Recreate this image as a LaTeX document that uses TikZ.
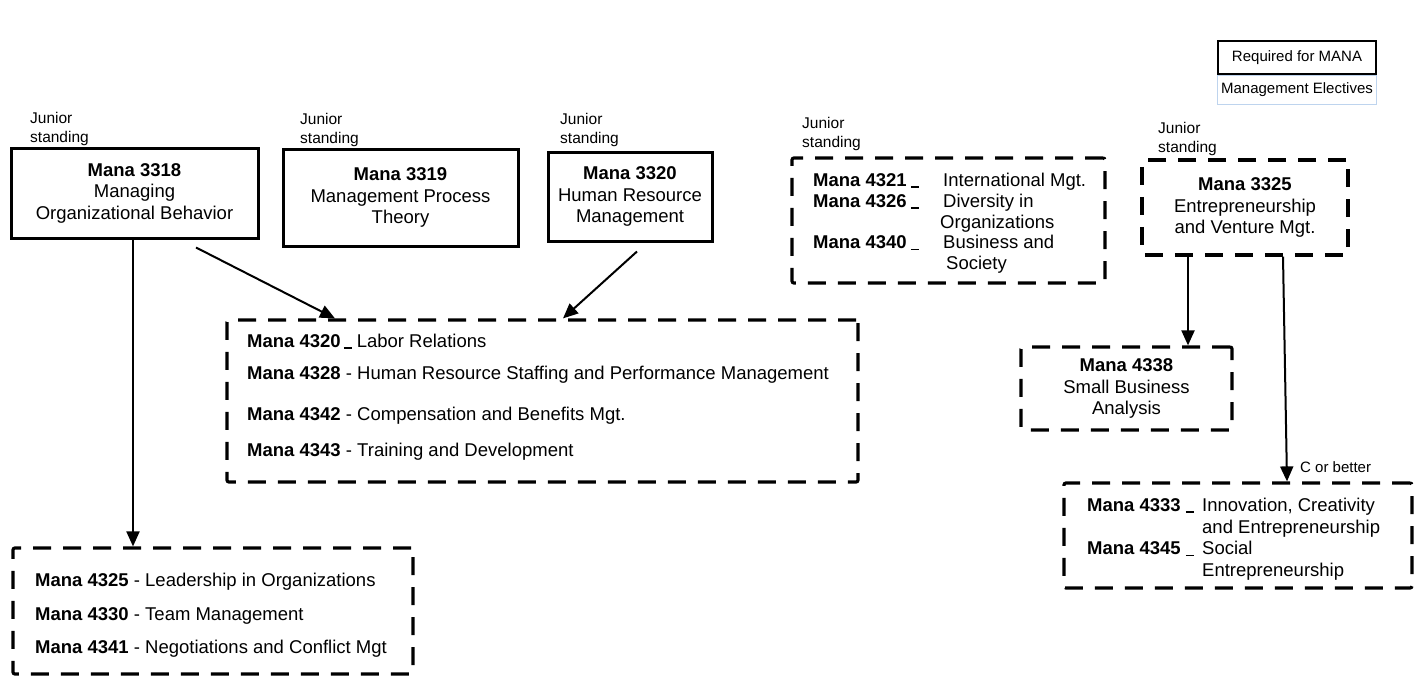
\documentclass[tikz,border=0pt]{standalone}
\usepackage{fontspec}
\setmainfont{Liberation Sans}
\usetikzlibrary{arrows.meta}
\definecolor{legblue}{RGB}{190,212,238}
\newcommand{\ud}{\rule[-1pt]{8pt}{1.4pt}}
\begin{document}
\begin{tikzpicture}[x=1pt,y=-1pt,
  solidbox/.style={draw, line width=3pt, inner sep=0pt, align=center, font=\fontsize{18.5}{21.5}\selectfont},
  dashbox/.style={draw, line width=3.2pt, dash pattern=on 18pt off 12pt, rounded corners=2pt, inner sep=0pt, align=center, font=\fontsize{18.5}{21.5}\selectfont},
  junior/.style={anchor=base west, align=left, inner sep=0pt, font=\fontsize{15.5}{19}\selectfont},
  listtext/.style={anchor=base west, align=left, inner sep=0pt},
  arr/.style={line width=2pt, -{Triangle[length=15pt,width=13pt]}},
  legendtext/.style={font=\fontsize{15}{18}\selectfont}
]
\useasboundingbox (0,0) rectangle (1416,677);

% legend
\node[draw, line width=2.5pt, minimum width=158pt, minimum height=33pt, legendtext] (legreq) at (1297,57.5) {Required for MANA};
\node[draw=legblue, line width=1.2pt, minimum width=158pt, minimum height=29pt, legendtext] (legel) at (1297,90) {Management Electives};

% junior standing labels (anchor = baseline of last line)
\node[junior] (j3318) at (30,142.5) {Junior\\standing};
\node[junior] (j3319) at (300,143.5) {Junior\\standing};
\node[junior] (j3320) at (560,143.5) {Junior\\standing};
\node[junior] (j4321) at (802,147.5) {Junior\\standing};
\node[junior] (j3325) at (1158,152.5) {Junior\\standing};

% boxes
\node[solidbox, minimum width=247pt, minimum height=90pt] (b3318) at (134.5,193) {\textbf{Mana 3318}\\Managing\\Organizational Behavior};
\node[solidbox, minimum width=235pt, minimum height=97pt] (b3319) at (400.5,197.5) {\textbf{Mana 3319}\\Management Process\\Theory};
\node[solidbox, minimum width=164pt, minimum height=89pt] (b3320) at (630,196.5) {\textbf{Mana 3320}\\Human Resource\\Management};
\node[dashbox, minimum width=313pt, minimum height=125pt] (b4321) at (948.5,220.5) {};
\node[dashbox, minimum width=206pt, minimum height=95pt] (b3325) at (1245,207.5) {\textbf{Mana 3325}\\Entrepreneurship\\and Venture Mgt.};
\node[dashbox, minimum width=211pt, minimum height=83pt] (b4338) at (1126.5,388.5) {\textbf{Mana 4338}\\Small Business\\Analysis};
\node[dashbox, minimum width=631pt, minimum height=162pt] (b4320) at (542.5,401) {};
\node[dashbox, minimum width=400pt, minimum height=126pt] (b4325) at (213,611) {};
\node[dashbox, minimum width=348pt, minimum height=105pt] (b4333) at (1238,535.5) {};

% list texts (anchor = baseline of last line)
\node[listtext, font=\fontsize{18.5}{20.7}\selectfont] (t4321) at (813,269.6) {\makebox[130pt][l]{\textbf{Mana 4321}\hspace{4pt}\ud}International Mgt.\\
\makebox[130pt][l]{\textbf{Mana 4326}\hspace{4pt}\ud}Diversity in\\
\hspace*{127pt}Organizations\\
\makebox[130pt][l]{\textbf{Mana 4340}\hspace{4pt}\ud}Business and\\
\hspace*{133pt}Society};

\node[listtext, font=\fontsize{18.5}{21.3}\selectfont] (t4320) at (247,456.6) {\textbf{Mana 4320}\hspace{3pt}\ud\hspace{5pt}Labor Relations\\[10.7pt]
\textbf{Mana 4328} - Human Resource Staffing and Performance Management\\[19.7pt]
\textbf{Mana 4342} - Compensation and Benefits Mgt.\\[14.7pt]
\textbf{Mana 4343} - Training and Development};

\node[listtext, font=\fontsize{18.5}{33.5}\selectfont] (t4325) at (35,653.6) {\textbf{Mana 4325} - Leadership in Organizations\\
\textbf{Mana 4330} - Team Management\\
\textbf{Mana 4341} - Negotiations and Conflict Mgt};

\node[listtext, font=\fontsize{18.5}{21.7}\selectfont] (t4333) at (1087,576.6) {\makebox[115pt][l]{\textbf{Mana 4333}\hspace{5pt}\ud}Innovation, Creativity\\
\hspace*{115pt}and Entrepreneurship\\
\makebox[115pt][l]{\textbf{Mana 4345}\hspace{5pt}\ud}Social\\
\hspace*{115pt}Entrepreneurship};

% arrows
\draw[arr] ([xshift=61.5pt,yshift=-8pt]b3318.south) -- ([xshift=-207.5pt]b4320.north);
\draw[arr] ([xshift=7pt,yshift=-9pt]b3320.south) -- ([xshift=20.5pt]b4320.north);
\draw[arr] ([xshift=-1.5pt]b3318.south) -- ([xshift=-80pt]b4325.north);
\draw[arr] ([xshift=-57pt]b3325.south) -- ([xshift=61.5pt]b4338.north);
\draw[arr] ([xshift=38pt]b3325.south) -- ([xshift=49pt]b4333.north);
\node[anchor=west, inner sep=0pt, legendtext] (cbetter) at (1300,467) {C or better};
\end{tikzpicture}
\end{document}
